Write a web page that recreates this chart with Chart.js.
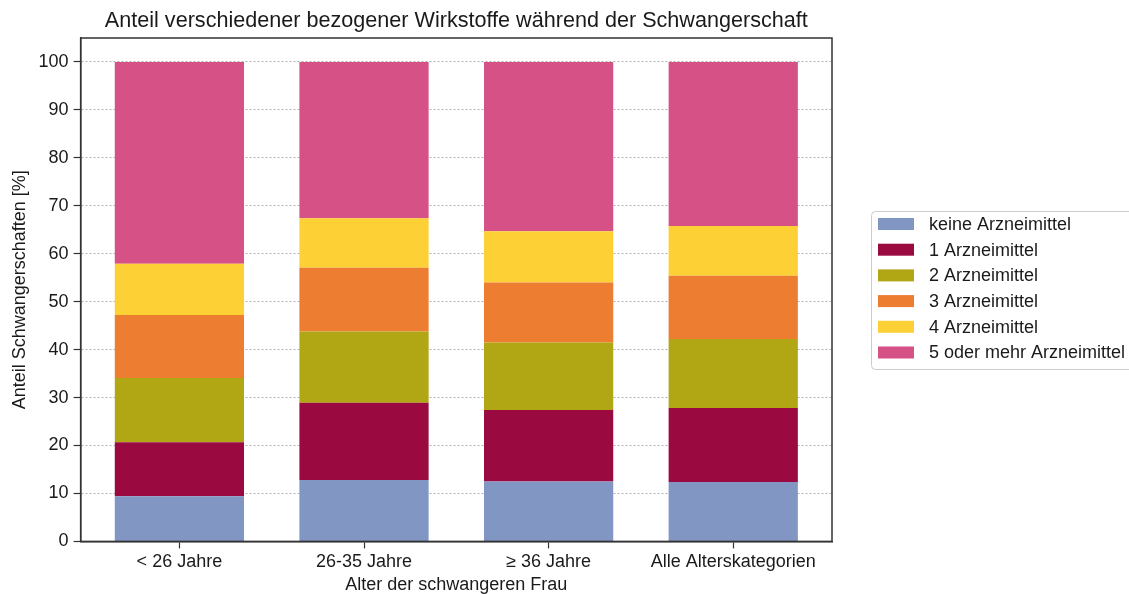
<!DOCTYPE html>
<html>
<head>
<meta charset="utf-8">
<script src="https://cdn.jsdelivr.net/npm/chart.js@4.4.1/dist/chart.umd.min.js"></script>
<style>
    html, body { margin: 0; padding: 0; background: #fff; }
    #wrap { width: 1129px; height: 594px; }
</style>
</head>
<body>
<div id="wrap"><canvas id="chart" width="1129" height="594"></canvas></div>
<script>
// categories on the x axis
var ageGroups = ["< 26 Jahre", "26-35 Jahre", "\u2265 36 Jahre", "Alle Alterskategorien"];

// share of pregnancies in percent, one array per number of drugs
var keine = [9.4, 12.8, 12.5, 12.4];
var eins = [11.3, 16.1, 14.9, 15.4];
var zwei = [13.4, 14.9, 14.1, 14.4];
var drei = [13.1, 13.3, 12.5, 13.2];
var vier = [10.7, 10.3, 10.7, 10.4];
var fuenfPlus = [42.1, 32.6, 35.3, 34.2];

var seriesNames = ["keine Arzneimittel", "1 Arzneimittel", "2 Arzneimittel",
    "3 Arzneimittel", "4 Arzneimittel", "5 oder mehr Arzneimittel"];
var seriesColors = ["#8196c3", "#9a0a40", "#b1a614", "#ed7d31", "#fdd036", "#d55186"];

var yTicks = [0, 10, 20, 30, 40, 50, 60, 70, 80, 90, 100];

var chartTitle = "Anteil verschiedener bezogener Wirkstoffe w\u00e4hrend der Schwangerschaft";

var FONT = "'Liberation Sans', Arial, sans-serif";
var TEXT = "#1a1a1a";

function toPoints(values) {
    return values.map(function (v, i) { return {x: i, y: v}; });
}

var allSeries = [keine, eins, zwei, drei, vier, fuenfPlus];
var datasets = allSeries.map(function (values, i) {
    return {
        label: seriesNames[i],
        data: toPoints(values),
        backgroundColor: seriesColors[i],
        borderWidth: 0,
        categoryPercentage: 1.0,
        barPercentage: 0.7
    };
});

// frame on all four sides, like the matplotlib axes box
var frame = {
    id: "frame",
    afterDatasetsDraw: function (chart) {
        var a = chart.chartArea, ctx = chart.ctx;
        ctx.save();
        ctx.strokeStyle = "#333";
        ctx.lineWidth = 1.5;
        ctx.strokeRect(a.left, a.top, a.right - a.left, a.bottom - a.top);
        ctx.restore();
    }
};

// title centred over the plot area (not over the whole canvas)
var plotTitle = {
    id: "plotTitle",
    afterDraw: function (chart) {
        var a = chart.chartArea, ctx = chart.ctx;
        ctx.save();
        ctx.font = "21.6px " + FONT;
        ctx.fillStyle = TEXT;
        ctx.textAlign = "center";
        ctx.textBaseline = "alphabetic";
        ctx.fillText(chartTitle, (a.left + a.right) / 2, 27);
        ctx.restore();
    }
};

// legend to the right of the plot
var sideLegend = {
    id: "sideLegend",
    afterDraw: function (chart) {
        var ctx = chart.ctx;
        var boxX = 871, boxY = 211, boxW = 270, boxH = 158;
        ctx.save();
        ctx.fillStyle = "rgba(255,255,255,0.9)";
        ctx.strokeStyle = "#cccccc";
        ctx.lineWidth = 1;
        ctx.beginPath();
        ctx.roundRect(boxX + 0.5, boxY + 0.5, boxW, boxH, 4);
        ctx.fill();
        ctx.stroke();
        ctx.font = "18px " + FONT;
        ctx.textBaseline = "middle";
        ctx.textAlign = "left";
        chart.data.datasets.forEach(function (ds, i) {
            var cy = 224 + i * 25.7;
            ctx.fillStyle = ds.backgroundColor;
            ctx.fillRect(878, cy - 6, 36, 12);
            ctx.fillStyle = TEXT;
            ctx.fillText(ds.label, 929, cy + 1);
        });
        ctx.restore();
    }
};

new Chart(document.getElementById("chart"), {
    type: "bar",
    data: {datasets: datasets},
    plugins: [frame, plotTitle, sideLegend],
    options: {
        responsive: false,
        animation: false,
        layout: {padding: {left: 0, right: 297, top: 38, bottom: 0}},
        plugins: {
            legend: {display: false},
            tooltip: {enabled: false},
            title: {display: false}
        },
        scales: {
            x: {
                type: "linear",
                stacked: true,
                offset: false,
                min: -0.535,
                max: 3.535,
                afterBuildTicks: function (scale) {
                    scale.ticks = ageGroups.map(function (c, i) { return {value: i}; });
                },
                ticks: {
                    color: TEXT,
                    font: {family: FONT, size: 18},
                    padding: 3,
                    maxRotation: 0,
                    autoSkip: false,
                    callback: function (value) { return ageGroups[value]; }
                },
                grid: {offset: false, drawOnChartArea: false, drawTicks: true, tickLength: 7, tickColor: "#333", tickWidth: 1.2},
                border: {display: true, color: "#333", width: 1.5},
                title: {
                    display: true,
                    text: "Alter der schwangeren Frau",
                    color: TEXT,
                    font: {family: FONT, size: 18, lineHeight: 1.0},
                    padding: {top: 0, bottom: 0}
                }
            },
            y: {
                stacked: true,
                min: 0,
                max: 105,
                afterBuildTicks: function (scale) {
                    scale.ticks = yTicks.map(function (v) { return {value: v}; });
                },
                ticks: {
                    color: TEXT,
                    font: {family: FONT, size: 18},
                    padding: 5
                },
                grid: {color: "#b0b0b0", lineWidth: 1, tickLength: 7, tickColor: "#333", tickWidth: 1.2},
                border: {display: true, color: "#333", width: 1.5, dash: [2, 2]},
                title: {
                    display: true,
                    text: "Anteil Schwangerschaften [%]",
                    color: TEXT,
                    font: {family: FONT, size: 18, lineHeight: 1.2},
                    padding: {top: 9, bottom: 3}
                }
            }
        }
    }
});
</script>
</body>
</html>
